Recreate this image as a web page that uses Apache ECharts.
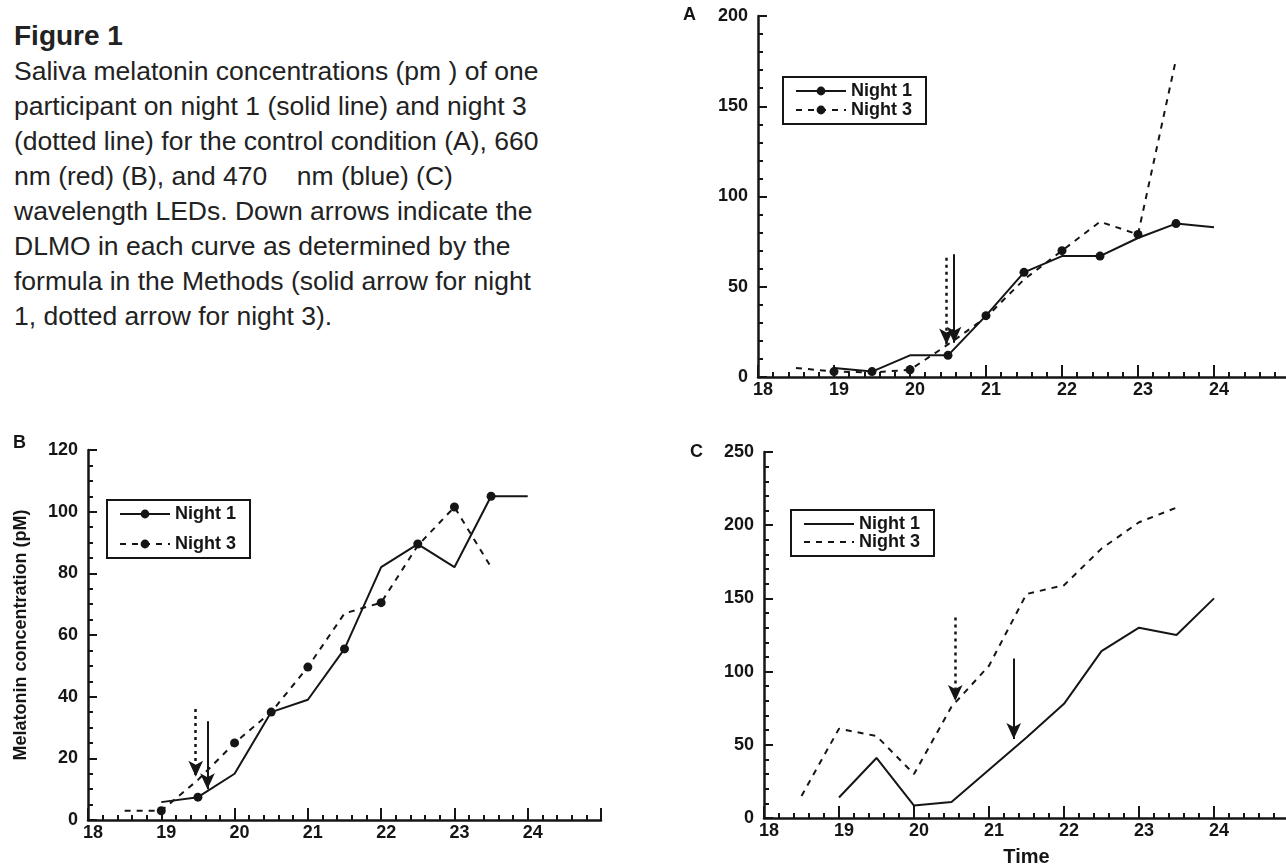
<!DOCTYPE html>
<html>
<head>
<meta charset="utf-8">
<script src="https://cdn.jsdelivr.net/npm/echarts@6/dist/echarts.min.js"></script>
<style>
  body { margin: 0; background: #fff; }
  #page { position: relative; width: 1286px; height: 865px; overflow: hidden; }
  .panel { position: absolute; }
  #caption {
    position: absolute; left: 14px; top: 18px;
    font-family: "Liberation Sans", Arial, sans-serif;
    font-size: 26.5px; line-height: 35px; color: #222; white-space: pre;
  }
  #caption b { font-size: 28px; }
</style>
</head>
<body>
<div id="page">
  <div id="caption"><b>Figure 1</b>
Saliva melatonin concentrations (pm ) of one
participant on night 1 (solid line) and night 3
(dotted line) for the control condition (A), 660
nm (red) (B), and 470    nm (blue) (C)
wavelength LEDs. Down arrows indicate the
DLMO in each curve as determined by the
formula in the Methods (solid arrow for night
1, dotted arrow for night 3).</div>
  <div id="chart-a" class="panel" style="left:680px;top:0;width:606px;height:420px;"></div>
  <div id="chart-b" class="panel" style="left:0;top:430px;width:640px;height:435px;"></div>
  <div id="chart-c" class="panel" style="left:680px;top:440px;width:606px;height:425px;"></div>
</div>
<script>
  // 数据 --- 时间(小时) 与 褪黑素浓度
  var hoursN1 = [19, 19.5, 20, 20.5, 21, 21.5, 22, 22.5, 23, 23.5, 24];
  var hoursN3 = [18.5, 19, 19.5, 20, 20.5, 21, 21.5, 22, 22.5, 23, 23.5];
  var xTicks = [18, 19, 20, 21, 22, 23, 24];

  // A: control
  var valsA1 = [5, 3, 12, 12, 34, 58, 67, 67, 77, 85, 83];
  var valsA3 = [5, 3, 2.5, 4, 18, 33, 54, 70, 86, 79, 176];
  var markA1 = [19.5, 20.5, 21, 21.5, 22.5, 23.5];
  var markA3 = [19, 20, 22, 23];
  var arrowA1 = [20.58, 68, 19];   // x, 起点, 终点
  var arrowA3 = [20.48, 66, 18];

  // B: 660 nm
  var valsB1 = [5.8, 7.4, 15, 35, 39, 55.5, 82, 89.5, 82, 105, 105];
  var valsB3 = [3, 3, 13, 25, 35, 49.6, 67, 70.5, 89, 101.5, 82];
  var markB1 = [19.5, 20.5, 21.5, 22.5, 23.5];
  var markB3 = [19, 20, 21, 22, 23];
  var arrowB1 = [19.63, 32, 10];
  var arrowB3 = [19.47, 36, 14];

  // C: 470 nm
  var valsC1 = [14, 41, 8.5, 11, 33, 55, 78, 114, 130, 125, 150];
  var valsC3 = [15, 61, 56, 30, 76, 104, 153, 159, 184, 202, 212];
  var arrowC1 = [21.33, 109, 54];
  var arrowC3 = [20.55, 137, 80];

  var FONT = '"Liberation Sans", Arial, sans-serif';
  var INK = '#151515';

  function buildData(hours, vals, marks) {
    return hours.map(function (h, i) {
      if (marks && marks.indexOf(h) >= 0) return [h, vals[i]];
      return { value: [h, vals[i]], symbol: 'none' };
    });
  }

  function buildSeries(name, hours, vals, marks, dashed, arrow) {
    return {
      name: name,
      type: 'line',
      data: buildData(hours, vals, marks),
      symbol: marks ? 'circle' : 'none',
      symbolSize: 9,
      itemStyle: { color: INK },
      lineStyle: { color: INK, width: 2, type: dashed ? [6, 6] : 'solid' },
      silent: true,
      animation: false,
      markLine: {
        silent: true,
        animation: false,
        symbol: ['none', 'arrow'],
        symbolSize: [11, 16],
        label: { show: false },
        lineStyle: { color: INK, width: dashed ? 2.5 : 2, type: dashed ? [3, 4] : 'solid' },
        data: [[{ coord: [arrow[0], arrow[1]] }, { coord: [arrow[0], arrow[2]] }]]
      }
    };
  }

  function buildOption(cfg) {
    var grid = cfg.grid;
    grid.outerBoundsMode = 'none';
    grid.containLabel = false;
    var legend = {
      orient: 'vertical',
      left: cfg.legendLeft, top: cfg.legendTop,
      borderColor: INK, borderWidth: 2, borderRadius: 0,
      padding: [5, 14, 5, 12],
      itemGap: cfg.legendGap,
      itemWidth: 50, itemHeight: 11,
      textStyle: { fontFamily: FONT, fontWeight: 'bold', fontSize: 18, color: INK },
      data: ['Night 1', 'Night 3']
    };
    // 图例: 无标记点时隐藏圆点
    if (!cfg.m1) legend.itemStyle = { opacity: 0 };
    return {
      animation: false,
      title: {
        text: cfg.letter, left: cfg.letterLeft, top: cfg.letterTop,
        textStyle: { fontFamily: FONT, fontWeight: 'bold', fontSize: 18, color: INK }
      },
      grid: grid,
      legend: legend,
      xAxis: {
        type: 'value', min: 18, max: 25, interval: 1,
        name: cfg.xName || '', nameLocation: 'middle', nameGap: 29,
        nameTextStyle: { fontFamily: FONT, fontWeight: 'bold', fontSize: 20, color: INK },
        axisLine: { lineStyle: { color: INK, width: 2.5 } },
        axisTick: { inside: true, length: 12, lineStyle: { color: INK, width: 2 } },
        minorTick: { show: true, splitNumber: 5, length: 5, lineStyle: { color: INK, width: 2 } },
        splitLine: { show: false },
        axisLabel: {
          margin: 4, padding: [0, 0, 0, 10],
          color: INK, fontFamily: FONT, fontWeight: 'bold', fontSize: 18,
          formatter: function (v) { return xTicks.indexOf(v) >= 0 ? String(v) : ''; }
        }
      },
      yAxis: {
        type: 'value', min: 0, max: cfg.yMax, interval: cfg.yStep,
        name: cfg.yName || '', nameLocation: 'middle', nameGap: cfg.yNameGap || 50,
        nameTextStyle: { fontFamily: FONT, fontWeight: 'bold', fontSize: 18, color: INK },
        axisLine: { show: true, lineStyle: { color: INK, width: 2.5 } },
        axisTick: { show: true, inside: true, length: 9, lineStyle: { color: INK, width: 2 } },
        minorTick: { show: true, splitNumber: cfg.yMinor, length: 5, lineStyle: { color: INK, width: 2 } },
        splitLine: { show: false },
        axisLabel: { margin: 10, color: INK, fontFamily: FONT, fontWeight: 'bold', fontSize: 18 }
      },
      series: [
        buildSeries('Night 1', hoursN1, cfg.v1, cfg.m1, false, cfg.a1),
        buildSeries('Night 3', hoursN3, cfg.v3, cfg.m3, true, cfg.a3)
      ]
    };
  }

  var chartA = echarts.init(document.getElementById('chart-a'));
  chartA.setOption(buildOption({
    letter: 'A', letterLeft: -2, letterTop: 1,
    grid: { left: 78, top: 16, width: 532, height: 361 },
    legendLeft: 103, legendTop: 77, legendGap: 1,
    yMax: 200, yStep: 50, yMinor: 5,
    v1: valsA1, v3: valsA3, m1: markA1, m3: markA3, a1: arrowA1, a3: arrowA3
  }));

  var chartB = echarts.init(document.getElementById('chart-b'));
  chartB.setOption(buildOption({
    letter: 'B', letterLeft: 8, letterTop: -1,
    grid: { left: 88, top: 20, width: 513, height: 370 },
    legendLeft: 107, legendTop: 70, legendGap: 12,
    yMax: 120, yStep: 20, yMinor: 4,
    yName: 'Melatonin concentration (pM)', yNameGap: 58,
    v1: valsB1, v3: valsB3, m1: markB1, m3: markB3, a1: arrowB1, a3: arrowB3
  }));

  var chartC = echarts.init(document.getElementById('chart-c'));
  chartC.setOption(buildOption({
    letter: 'C', letterLeft: 5, letterTop: -2,
    grid: { left: 84, top: 12, width: 525, height: 366 },
    legendLeft: 111, legendTop: 70, legendGap: 0,
    yMax: 250, yStep: 50, yMinor: 5,
    xName: 'Time',
    v1: valsC1, v3: valsC3, m1: null, m3: null, a1: arrowC1, a3: arrowC3
  }));
</script>
</body>
</html>
